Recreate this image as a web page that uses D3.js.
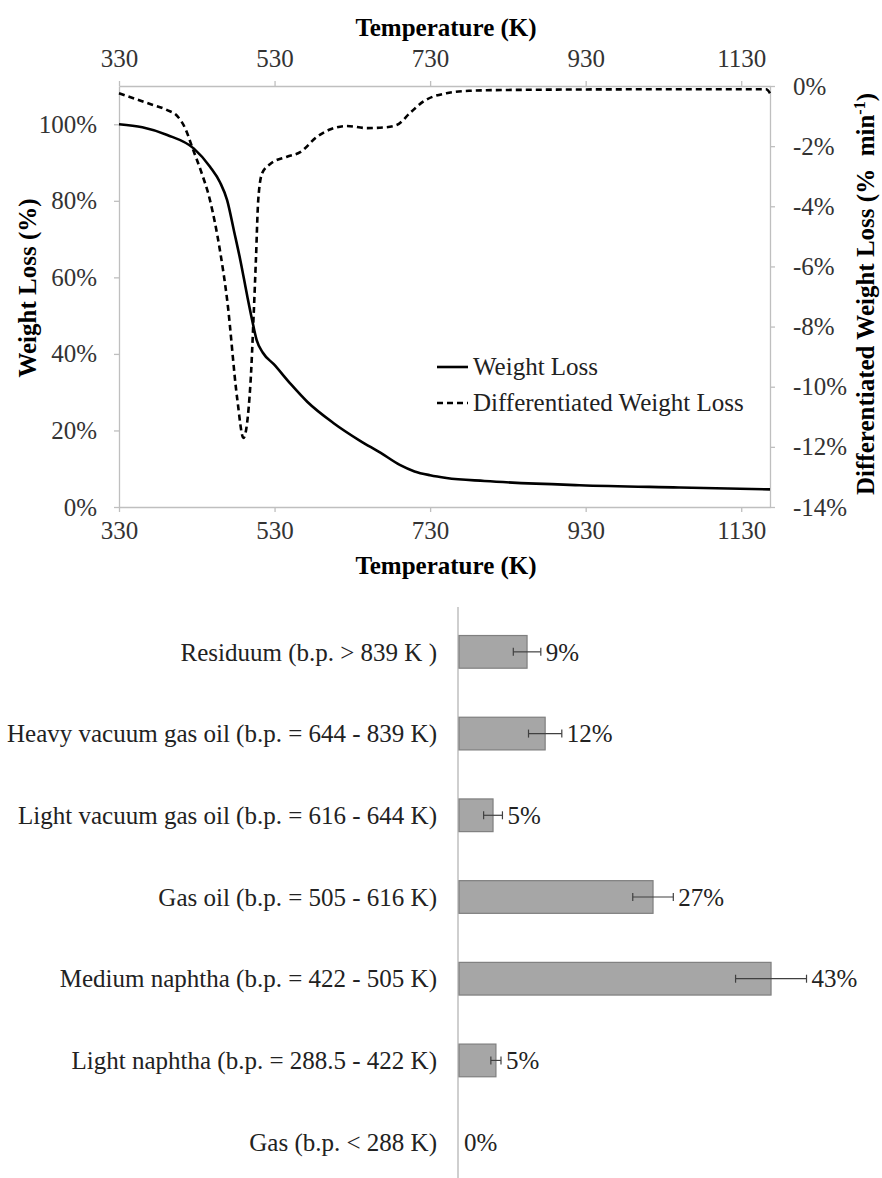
<!DOCTYPE html>
<html>
<head>
<meta charset="utf-8">
<script src="https://cdn.jsdelivr.net/npm/d3@7"></script>
<style>
  html, body { margin: 0; padding: 0; background: #fff; }
  svg { display: block; }
  text { font-family: "Liberation Serif", "Times New Roman", serif; }
</style>
</head>
<body>
<svg id="chart" width="882" height="1178"></svg>
<script>
// ---------------- DATA ----------------
// Thermogravimetric curve: temperature (K) vs weight remaining (%)
const tgaTemp   = [330, 360, 392, 426, 447, 460, 469, 478, 486, 495, 501, 507, 515, 529, 550, 572, 606, 640, 666, 691, 710, 730, 751, 800, 922, 1050, 1167];
const tgaWeight = [100, 99.2, 97.2, 93.7, 88.9, 84.8, 80.2, 72, 64.5, 55, 49, 43.6, 40.3, 37.3, 32.3, 27.5, 21.9, 17.3, 14.2, 11, 9.3, 8.3, 7.6, 6.8, 5.7, 5.1, 4.6];

// Differentiated weight loss (% per min)
const dtgTemp  = [330, 370, 392, 405, 415, 425, 435, 447, 460, 469, 482, 490, 499, 503, 506, 509, 514, 524, 546, 563, 584, 602, 623, 649, 670, 687, 704, 721, 751, 780, 837, 1008, 1162, 1167];
const dtgValue = [-0.24, -0.6, -0.8, -1.0, -1.4, -2.1, -2.8, -3.8, -5.5, -7.1, -10.4, -11.7, -9.9, -7.7, -5.8, -3.8, -2.9, -2.6, -2.35, -2.2, -1.7, -1.44, -1.33, -1.4, -1.38, -1.3, -0.9, -0.52, -0.24, -0.16, -0.13, -0.11, -0.11, -0.24];

const tempTicks  = [330, 530, 730, 930, 1130];
const leftTicks  = [0, 0.2, 0.4, 0.6, 0.8, 1.0];
const rightTicks = [0, -0.02, -0.04, -0.06, -0.08, -0.10, -0.12, -0.14];

const seriesNames = ["Weight Loss", "Differentiated Weight Loss"];

// Product distribution (bar chart)
const fractions = [
  "Residuum (b.p. > 839 K )",
  "Heavy vacuum gas oil (b.p. = 644 - 839 K)",
  "Light vacuum gas oil (b.p. = 616 - 644 K)",
  "Gas oil (b.p. = 505 - 616 K)",
  "Medium naphtha (b.p. = 422 - 505 K)",
  "Light naphtha (b.p. = 288.5 - 422 K)",
  "Gas (b.p. < 288 K)"
];
const fractionValues = [0.094, 0.119, 0.047, 0.268, 0.431, 0.051, 0.0];
const fractionErrors = [0.019, 0.023, 0.013, 0.028, 0.049, 0.007, 0.0];

// ---------------- CHART ----------------
const svg = d3.select("#chart");
const FONT = 25;
const SERIF = '"Liberation Serif", "Times New Roman", serif';
const axisGray = "#bfbfbf";
const tickText = "#333";

// Top chart
const P = { left: 119, right: 770, top: 86, bottom: 507 };
const x = d3.scaleLinear().domain([330, 1167]).range([P.left, P.right]);
const yL = d3.scaleLinear().domain([0, 1.1]).range([P.bottom, P.top]);
const yR = d3.scaleLinear().domain([-0.14, 0]).range([P.bottom, P.top]);
const pct = v => Math.round(v * 100) + "%";
const intFmt = v => String(v);

function styleAxis(g) {
  g.attr("font-family", SERIF);
  g.select(".domain").attr("stroke", axisGray).attr("stroke-width", 1.3);
  g.selectAll(".tick line").attr("stroke", axisGray).attr("stroke-width", 1.3);
  g.selectAll(".tick text").attr("fill", tickText)
    .attr("font-family", SERIF).attr("font-size", FONT);
}

svg.append("g").attr("transform", `translate(0,${P.top})`)
  .call(d3.axisTop(x).tickValues(tempTicks).tickFormat(intFmt).tickSize(5).tickSizeOuter(0).tickPadding(14))
  .call(styleAxis);
svg.append("g").attr("transform", `translate(0,${P.bottom})`)
  .call(d3.axisBottom(x).tickValues(tempTicks).tickFormat(intFmt).tickSize(5).tickSizeOuter(0).tickPadding(9))
  .call(styleAxis);
svg.append("g").attr("transform", `translate(${P.left},0)`)
  .call(d3.axisLeft(yL).tickValues(leftTicks).tickFormat(pct).tickSize(5).tickSizeOuter(0).tickPadding(17))
  .call(styleAxis);
svg.append("g").attr("transform", `translate(${P.right},0)`)
  .call(d3.axisRight(yR).tickValues(rightTicks).tickFormat(pct).tickSize(5).tickSizeOuter(0).tickPadding(18))
  .call(styleAxis);

// Axis titles
svg.append("text").attr("x", 446).attr("y", 36).attr("text-anchor", "middle")
  .attr("font-weight", "bold").attr("font-size", FONT).text("Temperature (K)");
svg.append("text").attr("x", 446).attr("y", 574).attr("text-anchor", "middle")
  .attr("font-weight", "bold").attr("font-size", FONT).text("Temperature (K)");
svg.append("text").attr("transform", "translate(36,288) rotate(-90)").attr("text-anchor", "middle")
  .attr("font-weight", "bold").attr("font-size", FONT).text("Weight Loss (%)");
const rt = svg.append("text").attr("transform", "translate(874,294) rotate(-90)").attr("text-anchor", "middle")
  .attr("font-weight", "bold").attr("font-size", FONT);
rt.append("tspan").text("Differentiated Weight Loss (%\u00A0 min");
rt.append("tspan").attr("font-size", 16).attr("dy", -9).text("-1");
rt.append("tspan").attr("dy", 9).text(")");

// Curves
const tga = tgaTemp.map((t, i) => [t, tgaWeight[i] / 100]);
const dtg = dtgTemp.map((t, i) => [t, dtgValue[i] / 100]);
const lineL = d3.line().x(d => x(d[0])).y(d => yL(d[1])).curve(d3.curveMonotoneX);
const lineR = d3.line().x(d => x(d[0])).y(d => yR(d[1])).curve(d3.curveMonotoneX);

svg.append("path").datum(dtg).attr("d", lineR).attr("fill", "none")
  .attr("stroke", "#000").attr("stroke-width", 2.6).attr("stroke-dasharray", "6,4");
svg.append("path").datum(tga).attr("d", lineL).attr("fill", "none")
  .attr("stroke", "#000").attr("stroke-width", 2.6);

// Legend
const legend = svg.append("g");
seriesNames.forEach((name, i) => {
  const yy = 367 + i * 36;
  legend.append("line").attr("x1", 437).attr("x2", 468).attr("y1", yy).attr("y2", yy)
    .attr("stroke", "#000").attr("stroke-width", 2.6)
    .attr("stroke-dasharray", i === 1 ? "6,4" : null);
  legend.append("text").attr("x", 473).attr("y", yy).attr("dy", "0.33em")
    .attr("font-size", FONT).attr("fill", "#222").text(name);
});

// ---------------- BAR CHART ----------------
const bx = d3.scaleLinear().domain([0, 0.5]).range([459, 821]);
const by = d3.scaleBand().domain(fractions).range([611, 1183]).paddingInner(0.6).paddingOuter(0.3);

svg.append("line").attr("x1", 458).attr("x2", 458).attr("y1", 607).attr("y2", 1178)
  .attr("stroke", axisGray).attr("stroke-width", 1.5);

const rows = svg.append("g").selectAll("g").data(fractions).join("g");
rows.append("text")
  .attr("x", 437).attr("y", d => by(d) + by.bandwidth() / 2).attr("dy", "0.35em")
  .attr("text-anchor", "end").attr("font-size", FONT).attr("fill", "#222").text(d => d);

rows.filter((d, i) => fractionValues[i] > 0).append("rect")
  .attr("x", bx(0)).attr("y", d => by(d))
  .attr("width", d => bx(fractionValues[fractions.indexOf(d)]) - bx(0))
  .attr("height", by.bandwidth())
  .attr("fill", "#a6a6a6").attr("stroke", "#7f7f7f").attr("stroke-width", 1.2);

rows.filter((d, i) => fractionErrors[i] > 0).each(function(d) {
  const i = fractions.indexOf(d);
  const cy = by(d) + by.bandwidth() / 2;
  const x1 = bx(fractionValues[i] - fractionErrors[i]);
  const x2 = bx(fractionValues[i] + fractionErrors[i]);
  const g = d3.select(this);
  g.append("line").attr("x1", x1).attr("x2", x2).attr("y1", cy).attr("y2", cy)
    .attr("stroke", "#404040").attr("stroke-width", 1.2);
  [x1, x2].forEach(xx => g.append("line").attr("x1", xx).attr("x2", xx)
    .attr("y1", cy - 4).attr("y2", cy + 4).attr("stroke", "#404040").attr("stroke-width", 1.2));
});

rows.append("text")
  .attr("x", d => { const i = fractions.indexOf(d); return bx(fractionValues[i] + fractionErrors[i]) + 5; })
  .attr("y", d => by(d) + by.bandwidth() / 2).attr("dy", "0.35em")
  .attr("font-size", FONT).attr("fill", "#222")
  .text(d => pct(fractionValues[fractions.indexOf(d)]));
</script>
</body>
</html>
